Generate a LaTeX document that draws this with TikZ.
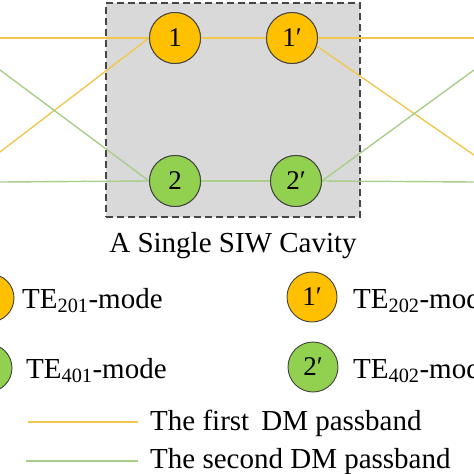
\documentclass[tikz,border=0pt]{standalone}
\usepackage{fontspec}
\setmainfont{Liberation Serif}
\usepackage{tikz}
\usetikzlibrary{positioning, calc}
\usepackage{xcolor}
\definecolor{modeorange}{RGB}{255, 192, 0}
\definecolor{modegreen}{RGB}{146, 208, 80}
\definecolor{firstline}{RGB}{240, 200, 80}
\definecolor{secondline}{RGB}{169, 206, 140}
\definecolor{cavgray}{RGB}{217, 217, 217}
\definecolor{cavedge}{RGB}{70, 70, 70}

\tikzset{
  mode/.style={circle, draw=black!75, line width=0.9pt, minimum size=51pt,
               inner sep=0pt, font=\fontsize{27}{30}\selectfont},
  modeA/.style={mode, fill=modeorange},
  modeB/.style={mode, fill=modegreen},
  firstdm/.style={draw=firstline, line width=1.4pt},
  seconddm/.style={draw=secondline, line width=1.4pt},
  lgtext/.style={anchor=base west, inner sep=0pt, font=\fontsize{29}{33}\selectfont}
}

\begin{document}
\begin{tikzpicture}[x=1pt, y=-1pt]
  \useasboundingbox (0,0) rectangle (474,474);
  \clip (0,0) rectangle (474,474);

  % the cavity
  \node[draw=cavedge, fill=cavgray, line width=1.3pt, dash pattern=on 7pt off 4pt,
        minimum width=254pt, minimum height=214pt, inner sep=0pt] (cavity) at (233,110) {};
  \node[anchor=base, inner sep=0pt, font=\fontsize{29}{33}\selectfont] (cavlbl) at (233,252) {A Single SIW Cavity};

  % resonant modes
  \node[modeA] (m1)  at (175,38)  {};
  \node[modeA] (m1p) at (292,38)  {};
  \node[modeB] (m2)  at (175,181) {};
  \node[modeB] (m2p) at (296,181) {};

  % free ends at the edges
  \coordinate (inA)  at (0,38);
  \coordinate (inAx) at (0,152);
  \coordinate (inB)  at (0,182);
  \coordinate (inBx) at (0,70);
  \coordinate (outA)  at (474,38);
  \coordinate (outAx) at (474,155);
  \coordinate (outB)  at (474,182);
  \coordinate (outBx) at (474,70);

  % first DM passband
  \draw[firstdm] (inA) -- (m1.west);
  \draw[firstdm] (inAx) -- (m1.west);
  \draw[firstdm] (m1.east) -- (m1p.west);
  \draw[firstdm] (m1p.east) -- (outA);
  \draw[firstdm] (m1p.-18) -- (outAx);

  % second DM passband
  \draw[seconddm] (inB) -- (m2.west);
  \draw[seconddm] (inBx) -- (m2.west);
  \draw[seconddm] (m2.east) -- (m2p.west);
  \draw[seconddm] (m2p.east) -- (outB);
  \draw[seconddm] (m2p.east) -- (outBx);

  % redraw circles on top
  \node[modeA] at (m1)  {1};
  \node[modeA] at (m1p) {1′};
  \node[modeB] at (m2)  {2};
  \node[modeB] at (m2p) {2′};

  % legend
  \node[modeA, minimum size=48pt] (k1)  at (-10,298) {};
  \node[modeB, minimum size=48pt] (k2)  at (-12,368) {};
  \node[modeA, minimum size=50pt] (k1p) at (312,297) {1′};
  \node[modeB, minimum size=50pt] (k2p) at (313,367) {2′};
  \node[lgtext] (t1)  at (22,308)  {TE\textsubscript{201}-mode};
  \node[lgtext] (t2)  at (26,378)  {TE\textsubscript{401}-mode};
  \node[lgtext] (t1p) at (353,308) {TE\textsubscript{202}-mode};
  \node[lgtext] (t2p) at (353,378) {TE\textsubscript{402}-mode};

  \coordinate (la1) at (28,422);
  \coordinate (la2) at (138,422);
  \coordinate (lb1) at (26,461);
  \coordinate (lb2) at (138,461);
  \draw[firstdm] (la1) -- (la2);
  \draw[seconddm] (lb1) -- (lb2);
  \node[lgtext] (tA) at (150,430) {The first\, DM passband};
  \node[lgtext] (tB) at (150,468) {The second DM passband};
\end{tikzpicture}
\end{document}
